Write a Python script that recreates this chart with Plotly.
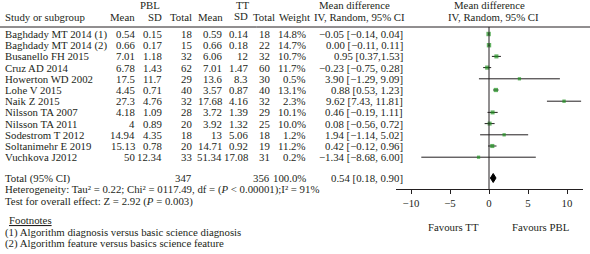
import plotly.graph_objects as go

studies = ["Baghdady MT 2014 (1)", "Baghdady MT 2014 (2)", "Busanello FH 2015", "Cruz AD 2014",
           "Howerton WD 2002", "Lohe V 2015", "Naik Z 2015", "Nilsson TA 2007", "Nilsson TA 2011",
           "Sodestrom T 2012", "Soltanimehr E 2019", "Vuchkova J2012"]
pbl_mean = ["0.54", "0.66", "7.01", "6.78", "17.5", "4.45", "27.3", "4.18", "4", "14.94", "15.13", "50"]
pbl_sd = ["0.15", "0.17", "1.18", "1.43", "11.7", "0.71", "4.76", "1.09", "0.89", "4.35", "0.78", "12.34"]
pbl_total = [18, 15, 32, 62, 29, 40, 32, 28, 20, 18, 20, 33]
tt_mean = ["0.59", "0.66", "6.06", "7.01", "13.6", "3.57", "17.68", "3.72", "3.92", "13", "14.71", "51.34"]
tt_sd = ["0.14", "0.18", "12", "1.47", "8.3", "0.87", "4.16", "1.39", "1.32", "5.06", "0.92", "17.08"]
tt_total = [18, 22, 32, 60, 30, 40, 32, 29, 25, 18, 19, 31]
weight = [14.8, 14.7, 10.7, 11.7, 0.5, 13.1, 2.3, 10.1, 10.0, 1.2, 11.2, 0.2]
md_est = [-0.05, 0.00, 0.95, -0.23, 3.90, 0.88, 9.62, 0.46, 0.08, 1.94, 0.42, -1.34]
md_lo = [-0.14, -0.11, 0.37, -0.75, -1.29, 0.53, 7.43, -0.19, -0.56, -1.14, -0.12, -8.68]
md_hi = [0.04, 0.11, 1.53, 0.28, 9.09, 1.23, 11.81, 1.11, 0.72, 5.02, 0.96, 6.00]
md_text = ["−0.05 [−0.14, 0.04]", "0.00 [−0.11, 0.11]", "0.95 [0.37,1.53]", "−0.23 [−0.75, 0.28]",
           "3.90 [−1.29, 9.09]", "0.88 [0.53, 1.23]", "9.62 [7.43, 11.81]", "0.46 [−0.19, 1.11]",
           "0.08 [−0.56, 0.72]", "1.94 [−1.14, 5.02]", "0.42 [−0.12, 0.96]", "−1.34 [−8.68, 6.00]"]
total_pbl = 347
total_tt = 356
total_weight = "100.0%"
total_est, total_lo, total_hi = 0.54, 0.18, 0.90
total_text = "0.54 [0.18, 0.90]"
tick_vals = [-10, -5, 0, 5, 10]
tick_text = ["−10", "−5", "0", "5", "10"]

W, H = 590, 254
FONT = "Liberation Serif"
FS = 10.8
TXT = "#231f20"
GREEN = "#1f921f"

ROW0, DY = 34, 11.2
rows = [ROW0 + DY * i for i in range(len(studies))]
y_total = 178
y_hdr1, y_hdr2, y_line, y_axis = 5, 17, 27, 189

def px(x):
    return x / W

ann = []
def add(text, x, y, anchor="left", size=FS, **kw):
    ann.append(dict(text=text, x=px(x), y=y, xref="paper", yref="y", xanchor=anchor,
                    yanchor="middle", showarrow=False, font=dict(family=FONT, size=size, color=TXT), **kw))

# headers
add("PBL", 150, y_hdr1, "center")
add("TT", 243, y_hdr1, "center")
add("Mean difference", 355, y_hdr1, "center")
add("Mean difference", 489, y_hdr1, "center")
add("Study or subgroup", 3, y_hdr2)
add("Mean", 137, y_hdr2, "right")
add("SD", 164, y_hdr2, "right")
add("Total", 194, y_hdr2, "right")
add("Mean", 225, y_hdr2, "right")
add("SD", 250, y_hdr2 - 1, "right")
add("Total", 277, y_hdr2, "right")
add("Weight", 312, y_hdr2, "right")
add("IV, Random, 95% CI", 407, y_hdr2, "right")
add("IV, Random, 95% CI", 493, y_hdr2, "center")

for i, s in enumerate(studies):
    y = rows[i]
    add(s, 3, y)
    add(pbl_mean[i], 137, y, "right")
    add(pbl_sd[i], 164, y, "right")
    add(str(pbl_total[i]), 194, y, "right")
    add(tt_mean[i], 224, y, "right")
    add(tt_sd[i], 250, y, "right")
    add(str(tt_total[i]), 272, y, "right")
    add(f"{weight[i]:.1f}%", 308, y, "right")
    add(md_text[i], 405, y, "right")

add("Total (95% CI)", 3, y_total)
add(str(total_pbl), 194, y_total, "right")
add(str(total_tt), 272, y_total, "right")
add(total_weight, 308, y_total, "right")
add(total_text, 405, y_total, "right")
add("Heterogeneity: Tau² = 0.22; Chi² = 0117.49, df = (<i>P</i> < 0.00001);I² = 91%", 3, 189)
add("Test for overall effect: Z = 2.92 (<i>P</i> = 0.003)", 3, 201)
add("<u>Footnotes</u>", 7, 220)
add("(1) Algorithm diagnosis versus basic science diagnosis", 3, 232)
add("(2) Algorithm feature versus basics science feature", 3, 243)
add("Favours TT", 453, 227, "center")
add("Favours PBL", 540, 227, "center")

fig = go.Figure()
fig.add_trace(go.Scatter(
    x=md_est, y=rows, mode="markers",
    marker=dict(symbol="square", color=GREEN, size=[3.2 + 0.08 * w for w in weight], line=dict(width=0)),
    error_x=dict(type="data", symmetric=False,
                 array=[h - e for h, e in zip(md_hi, md_est)],
                 arrayminus=[e - l for e, l in zip(md_est, md_lo)],
                 color="#231f20", thickness=1, width=0),
    showlegend=False, hoverinfo="skip"))
fig.add_trace(go.Scatter(
    x=[total_lo, total_est, total_hi, total_est, total_lo],
    y=[y_total, y_total - 4.5, y_total, y_total + 4.5, y_total],
    mode="lines", fill="toself", fillcolor="black", line=dict(color="black", width=1),
    showlegend=False, hoverinfo="skip"))

shapes = [
    dict(type="line", xref="paper", yref="y", x0=0, x1=1, y0=y_line, y1=y_line,
         line=dict(color="#231f20", width=1)),
    dict(type="line", xref="x", yref="y", x0=0, x1=0, y0=y_line, y1=y_axis,
         line=dict(color="#231f20", width=1)),
]

x0px, x1px, zero_px, ppu = 396, 583, 489, 7.8
fig.update_layout(
    width=W, height=H, margin=dict(l=0, r=0, t=0, b=0),
    paper_bgcolor="white", plot_bgcolor="rgba(0,0,0,0)",
    xaxis=dict(domain=[px(x0px), px(x1px)],
               range=[(x0px - zero_px) / ppu, (x1px - zero_px) / ppu],
               anchor="free", position=1 - y_axis / H,
               showline=True, linecolor="#231f20", linewidth=1,
               ticks="outside", ticklen=4, tickcolor="#231f20",
               tickvals=tick_vals, ticktext=tick_text,
               tickfont=dict(family=FONT, size=FS, color=TXT),
               showgrid=False, zeroline=False),
    yaxis=dict(domain=[0, 1], range=[H, 0], visible=False, showgrid=False, zeroline=False),
    annotations=ann, shapes=shapes,
)
fig.write_html("out.html", config={"displayModeBar": False},
               post_script="document.body.style.margin='0';document.body.style.overflow='hidden';")
